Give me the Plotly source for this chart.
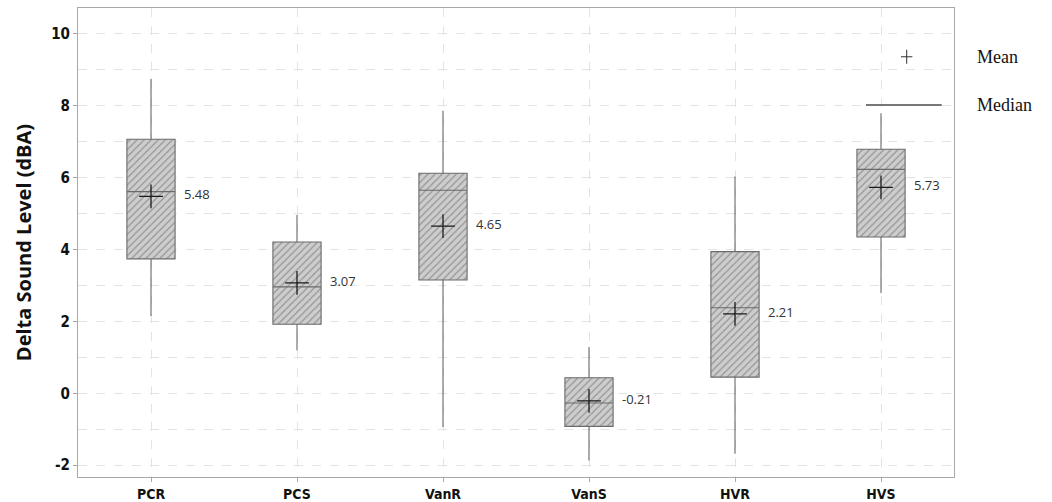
import plotly.graph_objects as go

categories = ["PCR", "PCS", "VanR", "VanS", "HVR", "HVS"]
q1 = [3.74, 1.92, 3.15, -0.92, 0.45, 4.35]
median = [5.61, 2.96, 5.65, -0.27, 2.38, 6.23]
q3 = [7.07, 4.21, 6.12, 0.43, 3.94, 6.79]
lower_whisker = [2.15, 1.20, -0.94, -1.87, -1.68, 2.79]
upper_whisker = [8.75, 4.96, 7.86, 1.29, 6.03, 7.79]
means = [5.48, 3.07, 4.65, -0.21, 2.21, 5.73]
mean_labels = ["5.48", "3.07", "4.65", "-0.21", "2.21", "5.73"]
y_tick_values = [-2, 0, 2, 4, 6, 8, 10]
y_tick_labels = ["-2", "0", "2", "4", "6", "8", "10"]

BOX_W = 0.33

fig = go.Figure()

# hatched box fill (bars from q1 to q3)
fig.add_trace(go.Bar(
    x=categories,
    y=[b - a for a, b in zip(q1, q3)],
    base=q1,
    width=BOX_W,
    marker=dict(
        color="#cdcdcd",
        line=dict(width=0),
        pattern=dict(shape="/", fgcolor="#555555", bgcolor="#cdcdcd", size=5, solidity=0.22),
    ),
    showlegend=False,
    hoverinfo="skip",
))

# box outlines, medians, whiskers
fig.add_trace(go.Box(
    x=categories,
    q1=q1,
    median=median,
    q3=q3,
    lowerfence=lower_whisker,
    upperfence=upper_whisker,
    width=BOX_W,
    whiskerwidth=0,
    fillcolor="rgba(0,0,0,0)",
    line=dict(color="#6a6a6a", width=1.1),
    boxpoints=False,
    showlegend=False,
))

# mean markers
fig.add_trace(go.Scatter(
    x=categories,
    y=means,
    mode="markers",
    marker=dict(symbol="cross-thin", size=17, line=dict(color="#1a1a1a", width=1.3)),
    showlegend=False,
    hoverinfo="skip",
))

# mean labels
for c, m, t in zip(categories, means, mean_labels):
    fig.add_annotation(
        x=c, y=m, text=t, showarrow=False, xanchor="left", yanchor="middle",
        xshift=31, yshift=2, font=dict(family="Open Sans", size=13, color="#333333"),
    )

# custom legend (mean / median)
fig.add_shape(type="line", xref="paper", yref="paper", x0=0.8995, x1=0.986, y0=0.793, y1=0.793,
              line=dict(color="#777777", width=2))
fig.add_shape(type="line", xref="paper", yref="paper", x0=0.946, x1=0.946, y0=0.881, y1=0.911,
              line=dict(color="#333333", width=1))
fig.add_shape(type="line", xref="paper", yref="paper", x0=0.9395, x1=0.9525, y0=0.896, y1=0.896,
              line=dict(color="#333333", width=1))
fig.add_annotation(xref="paper", yref="paper", x=1.024, y=0.896, text="Mean", showarrow=False,
                   xanchor="left", yanchor="middle",
                   font=dict(family="Liberation Serif", size=18, color="#111111"))
fig.add_annotation(xref="paper", yref="paper", x=1.024, y=0.793, text="Median", showarrow=False,
                   xanchor="left", yanchor="middle",
                   font=dict(family="Liberation Serif", size=18, color="#111111"))

fig.update_layout(
    width=1052, height=502,
    margin=dict(l=78, r=98, t=8, b=25),
    paper_bgcolor="white", plot_bgcolor="white",
    barmode="overlay", boxmode="overlay",
    showlegend=False,
)
fig.update_xaxes(
    range=[-0.5, 5.5], automargin=False,
    showgrid=True, gridcolor="#e3e3e3", griddash="dash", gridwidth=1,
    showline=True, linecolor="#a8a8a8", linewidth=1, mirror=True,
    ticks="outside", ticklen=4, tickcolor="#a8a8a8",
    tickfont=dict(family="DejaVu Sans Condensed", size=14, color="#111111", weight="bold"),
    zeroline=False,
)
fig.update_yaxes(
    range=[-2.33, 10.72], automargin=False,
    tickmode="array", tickvals=y_tick_values, ticktext=y_tick_labels,
    showgrid=True, gridcolor="#e3e3e3", griddash="dash", gridwidth=1,
    minor=dict(tickmode="linear", tick0=0, dtick=1, showgrid=True, gridcolor="#e3e3e3",
               griddash="dash", ticks=""),
    showline=True, linecolor="#a8a8a8", linewidth=1, mirror=True,
    ticks="outside", ticklen=4, tickcolor="#a8a8a8",
    tickfont=dict(family="DejaVu Sans Condensed", size=15, color="#111111", weight="bold"),
    title=dict(text="Delta Sound Level (dBA)", standoff=14,
               font=dict(family="Open Sans", size=20, color="#111111", weight="bold")),
    zeroline=False,
)

fig.write_html("out.html", config={"displayModeBar": False},
               post_script="document.body.style.margin='0px';")
